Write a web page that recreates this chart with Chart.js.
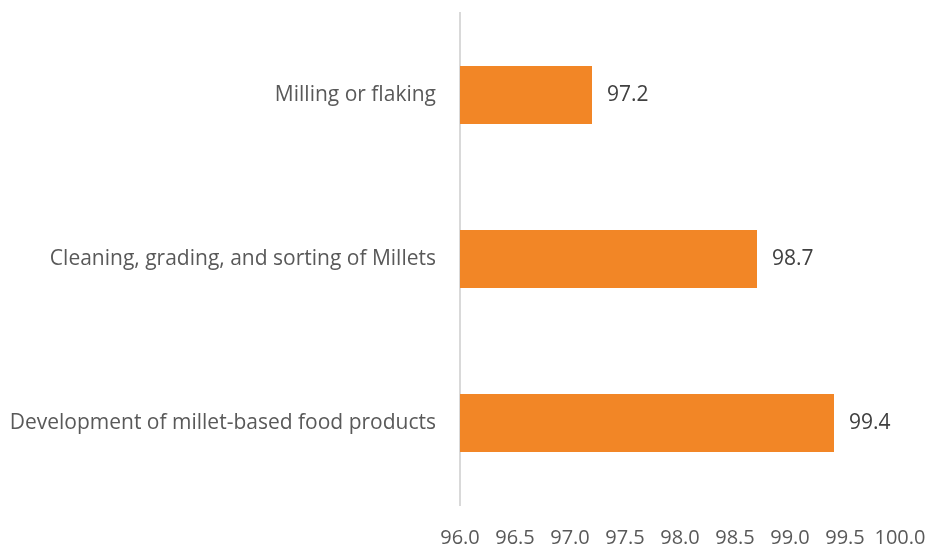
<!DOCTYPE html>
<html lang="en">
<head>
  <meta charset="UTF-8" />
  <title>Millet processing</title>
  <script src="https://cdn.jsdelivr.net/npm/chart.js"></script>
  <style>
    body { margin: 0; background: #ffffff; }
    .wrap { width: 928px; height: 548px; position: relative; }
  </style>
</head>
<body>
  <div class="wrap"><canvas id="grafica"></canvas></div>
<script>
  const categorias = ['Milling or flaking', 'Cleaning, grading, and sorting of Millets', 'Development of millet-based food products'];
  const valores = [97.2, 98.7, 99.4];
  const ticksX = [96.0, 96.5, 97.0, 97.5, 98.0, 98.5, 99.0, 99.5, 100.0];

  const fuente = '"Open Sans", Lato, sans-serif';

  // etiquetas de valor a la derecha de cada barra
  const etiquetasValor = {
    id: 'etiquetasValor',
    afterDatasetsDraw(chart) {
      const ctx = chart.ctx;
      const meta = chart.getDatasetMeta(0);
      ctx.save();
      ctx.font = '21px ' + fuente;
      ctx.fillStyle = '#404040';
      ctx.textAlign = 'left';
      ctx.textBaseline = 'middle';
      meta.data.forEach((bar, i) => {
        ctx.fillText(valores[i].toFixed(1), bar.x + 15, bar.y);
      });
      ctx.restore();
    }
  };

  new Chart(document.getElementById('grafica').getContext('2d'), {
    type: 'bar',
    data: {
      labels: categorias,
      datasets: [{
        data: valores,
        backgroundColor: '#F28626',
        barPercentage: 0.5,
        categoryPercentage: 0.71
      }]
    },
    options: {
      indexAxis: 'y',
      responsive: true,
      maintainAspectRatio: false,
      animation: false,
      layout: { padding: { top: 13, right: 28, left: 0, bottom: 0 } },
      plugins: {
        legend: { display: false },
        tooltip: { enabled: false }
      },
      scales: {
        x: {
          min: 96,
          max: 100,
          afterBuildTicks: (scale) => { scale.ticks = ticksX.map(v => ({ value: v })); },
          afterFit: (scale) => {
            scale.height = 43;
            scale.paddingLeft = 0;
            scale.paddingRight = 0;
          },
          grid: { display: false },
          border: { display: false },
          ticks: {
            color: '#595959',
            font: { family: fuente, size: 20 },
            padding: 13,
            maxRotation: 0,
            autoSkip: false,
            callback: (v) => Number(v).toFixed(1)
          }
        },
        y: {
          afterFit: (scale) => {
            scale.width = 460;
            scale.paddingTop = 0;
            scale.paddingBottom = 0;
          },
          grid: { display: false },
          border: { display: true, color: '#D9D9D9', width: 2 },
          ticks: {
            color: '#595959',
            font: { family: fuente, size: 21 },
            padding: 16
          }
        }
      }
    },
    plugins: [etiquetasValor]
  });
</script>
</body>
</html>
